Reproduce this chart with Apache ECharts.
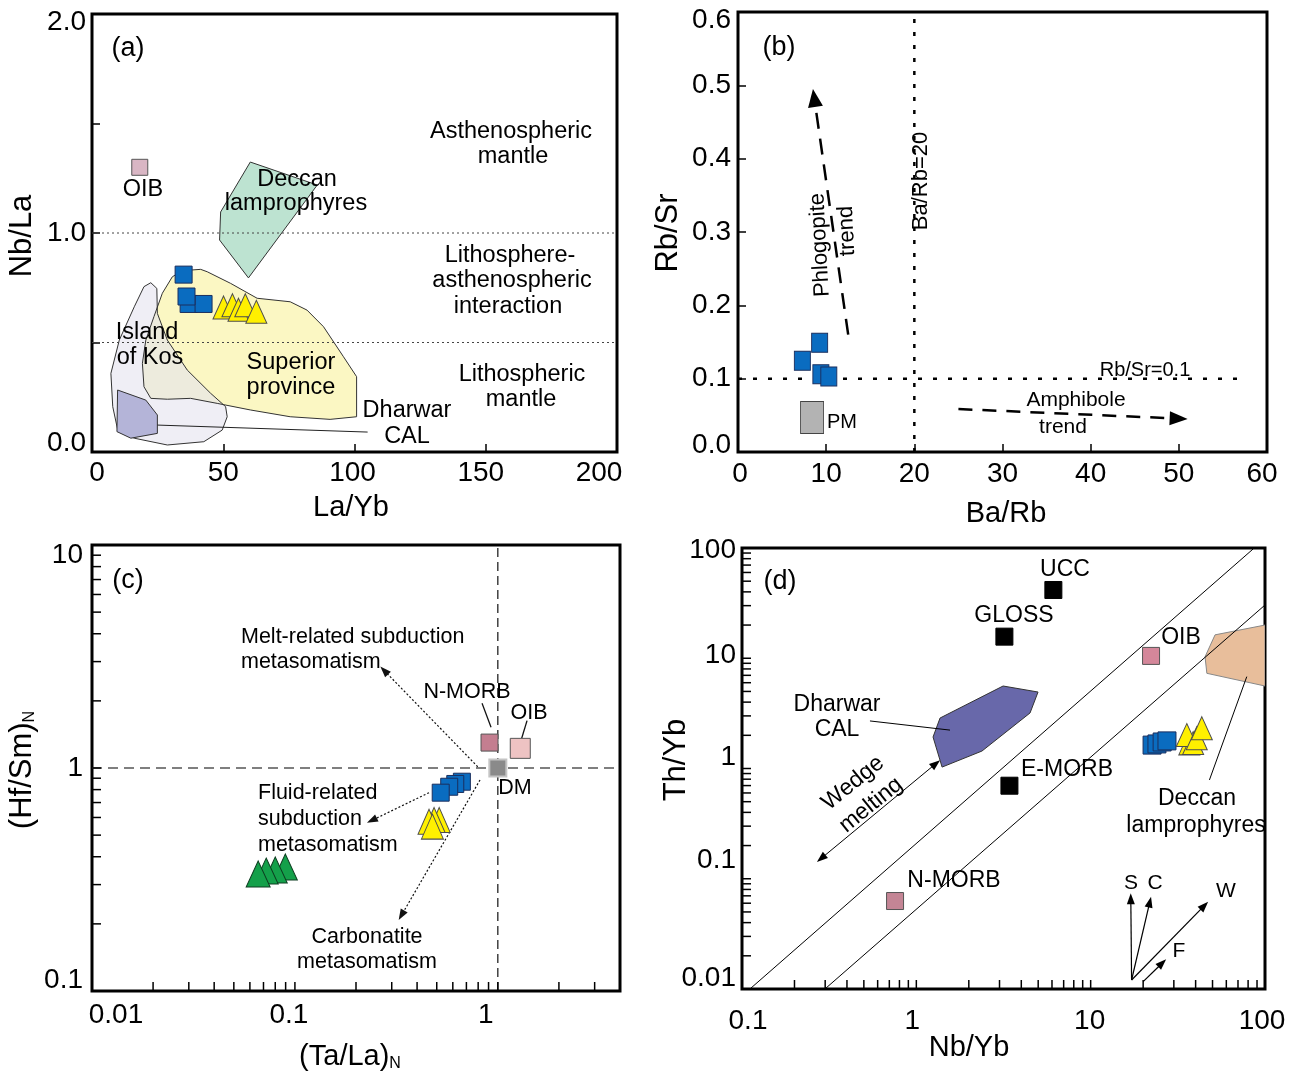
<!DOCTYPE html>
<html>
<head>
<meta charset="utf-8">
<script src="https://cdn.jsdelivr.net/npm/echarts@6.0.0/dist/echarts.min.js"></script>
<style>
html,body{margin:0;padding:0;background:#fff;}
#chart{width:1302px;height:1074px;}
</style>
</head>
<body>
<div id="chart"></div>
<script>
// ---------------- DATA ----------------
// (a) Nb/La vs La/Yb
const aOib = [[18.2, 1.30]];
const aSquares = [[36.8, 0.676], [42.5, 0.676], [36.0, 0.71], [34.9, 0.81]];
const aTriangles = [[50.1, 0.66], [53.5, 0.67], [55.8, 0.65], [58.4, 0.67], [62.6, 0.64]];
const aDeccanField = [[60.3, 1.324], [85.8, 1.219], [59.6, 0.795], [48.6, 0.968], [49.0, 1.096]];
const aKosField = [[22.4, 0.773], [24.7, 0.747], [24.9, 0.633], [28.7, 0.511], [36.3, 0.374], [45.2, 0.268], [50.9, 0.207], [51.5, 0.161], [49.6, 0.100], [42.6, 0.047], [28.7, 0.032], [16.1, 0.063], [9.8, 0.100], [7.9, 0.207], [7.2, 0.359], [10.4, 0.511], [16.1, 0.663], [19.8, 0.755]];
const aSuperiorField = [[30.6, 0.800], [34.4, 0.828], [41.4, 0.834], [43.9, 0.823], [52.8, 0.770], [62.9, 0.702], [75.5, 0.686], [81.9, 0.648], [88.2, 0.572], [95.8, 0.435], [100.8, 0.344], [100.8, 0.161], [90.7, 0.149], [75.5, 0.161], [60.3, 0.192], [47.7, 0.222], [37.6, 0.245], [28.7, 0.241], [22.4, 0.245], [19.8, 0.298], [19.2, 0.405], [20.5, 0.511], [23.6, 0.618], [26.8, 0.725]];
const aDharwarField = [[9.75, 0.283], [20.5, 0.237], [24.9, 0.169], [24.9, 0.085], [14.8, 0.063], [9.5, 0.093]];
const aDharwarLeader = [[24.9, 0.123], [105, 0.091]];
const aBoundaryValues = [1.0, 0.5];
const aXTickLabels = [[0, '0'], [50, '50'], [100, '100'], [150, '150'], [200, '200']];
const aYTickLabels = [[0, '0.0'], [1, '1.0'], [2, '2.0']];

// (b) Rb/Sr vs Ba/Rb
const bSquares = [[7.3, 0.1245], [9.26, 0.149], [9.4, 0.106], [10.3, 0.103]];
const bPM = [[8.4, 0.047]];
const bBaRbLine = [[20, 0], [20, 0.6]];
const bRbSrLine = [[0, 0.1], [57.8, 0.1]];
const bPhlogopiteArrow = [[12.5, 0.160], [8.5, 0.495]];
const bAmphiboleArrow = [[25.0, 0.0586], [51.0, 0.045]];
const bXTickLabels = [[0, '0'], [10, '10'], [20, '20'], [30, '30'], [40, '40'], [50, '50'], [60, '60']];
const bYTickLabels = [[0, '0.0'], [0.1, '0.1'], [0.2, '0.2'], [0.3, '0.3'], [0.4, '0.4'], [0.5, '0.5'], [0.6, '0.6']];

// (c) (Hf/Sm)N vs (Ta/La)N
const cNMorb = [[0.91, 1.30]];
const cOib = [[1.29, 1.225]];
const cDm = [[1.0, 1.0]];
const cSquares = [[0.665, 0.868], [0.617, 0.848], [0.576, 0.824], [0.523, 0.775]];
const cYellowTriangles = [[0.514, 0.585], [0.485, 0.585], [0.458, 0.574], [0.476, 0.546]];
const cGreenTriangles = [[0.0897, 0.360], [0.080, 0.349], [0.0722, 0.345], [0.0659, 0.335]];
const cMeltArrow = [[0.796, 1.013], [0.2636, 2.85]];
const cFluidArrow = [[0.458, 0.775], [0.2264, 0.568]];
const cCarbonatiteArrow = [[0.817, 0.884], [0.3246, 0.208]];
const cNMorbLeader = [[0.836, 1.95], [0.926, 1.522]];
const cOibLeader = [[1.393, 1.63], [1.311, 1.359]];
const cVLine = [[1, 0.1], [1, 10]];
const cHLine = [[0.01, 1], [4, 1]];
const cXTickLabels = [[0.01, '0.01'], [0.1, '0.1'], [1, '1']];
const cYTickLabels = [[0.1, '0.1'], [1, '1'], [10, '10']];
const cXTickValues = [0.02, 0.03, 0.04, 0.05, 0.06, 0.07, 0.08, 0.09, 0.1, 0.2, 0.3, 0.4, 0.5, 0.6, 0.7, 0.8, 0.9, 1, 2, 3];
const cYTickValues = [0.2, 0.3, 0.4, 0.5, 0.6, 0.7, 0.8, 0.9, 1, 2, 3, 4, 5, 6, 7, 8, 9];

// (d) Th/Yb vs Nb/Yb
const dUcc = [[6.11, 41.6]];
const dGloss = [[3.2, 15.7]];
const dEMorb = [[3.42, 0.698]];
const dOib = [[22.2, 10.5]];
const dNMorb = [[0.755, 0.0628]];
const dSquares = [[22.5, 1.63], [24.0, 1.67], [25.7, 1.74], [27.4, 1.78]];
const dTriangles = [[36.8, 1.69], [38.7, 1.70], [35.6, 2.01], [40.6, 1.88], [43.4, 2.32]];
const dArrayUpper = [[0.111, 0.01], [85.5, 98]];
const dArrayLower = [[0.299, 0.01], [100, 30.4]];
const dDharwarField = [[1.368, 2.87], [3.145, 5.60], [4.99, 4.94], [4.49, 3.19], [2.38, 1.44], [1.405, 1.03], [1.247, 1.93]];
const dDeccanField = [[51.7, 16.3], [100, 20.0], [100, 5.60], [46.4, 7.30], [45.3, 10.3]];
const dDharwarLeader = [[0.542, 2.70], [1.56, 2.23]];
const dDeccanLeader = [[78.6, 6.81], [48.0, 0.787]];
const dWedgeArrow = [[0.269, 0.142], [1.368, 1.19]];
const dVectorS = [[17.17, 0.01207], [16.98, 0.0738]];
const dVectorC = [[17.17, 0.01207], [22.2, 0.0688]];
const dVectorW = [[17.17, 0.01207], [47.2, 0.0619]];
const dVectorF = [[20.0, 0.01165], [27.1, 0.0186]];
const dXTickLabels = [[0.1, '0.1'], [1, '1'], [10, '10'], [100, '100']];
const dYTickLabels = [[0.01, '0.01'], [0.1, '0.1'], [1, '1'], [10, '10'], [100, '100']];
const dXTickValues = [0.2, 0.3, 0.4, 0.5, 0.6, 0.7, 0.8, 0.9, 1, 2, 3, 4, 5, 6, 7, 8, 9, 10, 20, 30, 40, 50, 60, 70, 80, 90];
const dYTickValues = [0.02, 0.03, 0.04, 0.05, 0.06, 0.07, 0.08, 0.09, 0.1, 0.2, 0.3, 0.4, 0.5, 0.6, 0.7, 0.8, 0.9, 1, 2, 3, 4, 5, 6, 7, 8, 9, 10, 20, 30, 40, 50, 60, 70, 80, 90];

// ---------------- LABEL NUDGES (pixels, styling only) ----------------
const aXShift = [5, 0, -2, -5, -18];
const aYShift = [-9, 0, 8];
const bXShift = [2, 0, 0, 0, 0, 0, -5];
const bYShift = [-7, 0, 0, 0, 0, 0, 8];
const cXShift = [24, -6, -12];
const cYShift = [-11, 0, 10];
const dXShift = [6, -4, -1, -3];
const dYShift = [-11, -18, -11, -3, 2];

// ---------------- HELPERS ----------------
const FONT = 'Liberation Sans, Arial, sans-serif';
const TICK_FS = 28;
const BLUE = '#0a6cc0', BLUE_B = '#1b2f5e';
const YEL = '#fff000', YEL_B = '#4d4d4d';

function labelSpec(list, shifts, dir) {
  const rich = {};
  list.forEach((l, i) => {
    const s = shifts[i] || 0;
    let pad;
    if (dir === 'x') pad = [0, Math.max(-2 * s, 0), 0, Math.max(2 * s, 0)];
    else pad = [Math.max(2 * s, 0), 0, Math.max(-2 * s, 0), 0];
    rich['l' + i] = { fontSize: TICK_FS, fontFamily: FONT, color: '#000', padding: pad };
  });
  const formatter = function (v) {
    const i = list.findIndex(l => Math.abs(v - l[0]) <= 1e-6 * Math.max(1e-9, Math.abs(l[0])) || Math.abs(v - l[0]) < 1e-12);
    return i < 0 ? '' : '{l' + i + '|' + list[i][1] + '}';
  };
  return { rich, formatter };
}
function valueAxis(gi, pos, min, max, interval, spec, margin) {
  return {
    type: 'value', gridIndex: gi, position: pos, min, max, interval,
    splitLine: { show: false }, axisLine: { show: false },
    axisTick: { show: true, inside: true, length: 8, lineStyle: { color: '#000', width: 1.5 } },
    axisLabel: { fontSize: TICK_FS, fontFamily: FONT, color: '#000', margin, interval: 0, formatter: spec.formatter, rich: spec.rich, showMinLabel: true, showMaxLabel: true }
  };
}
function logAxis(gi, pos, min, max, spec, margin) {
  return {
    type: 'log', logBase: 10, gridIndex: gi, position: pos, min, max,
    splitLine: { show: false }, axisLine: { show: false }, axisTick: { show: false }, minorTick: { show: false },
    axisLabel: { fontSize: TICK_FS, fontFamily: FONT, color: '#000', margin, interval: 0, formatter: spec.formatter, rich: spec.rich, showMinLabel: true, showMaxLabel: true }
  };
}
function scatter(gi, data, symbol, size, color, border, bw, z) {
  return {
    type: 'scatter', xAxisIndex: gi, yAxisIndex: gi, data, symbol, symbolSize: size, z: z || 5, silent: true,
    itemStyle: { color, borderColor: border, borderWidth: bw === undefined ? 1 : bw, opacity: 1 },
    emphasis: { disabled: true }, animation: false
  };
}
function polygon(gi, pts, fill, stroke, z, lw) {
  return {
    type: 'custom', xAxisIndex: gi, yAxisIndex: gi, data: [pts[0]], z, silent: true, clip: true,
    renderItem: (params, api) => ({
      type: 'polygon', shape: { points: pts.map(p => api.coord(p)) },
      style: { fill, stroke, lineWidth: lw === undefined ? 1 : lw }
    })
  };
}
function path(gi, pts, o) {
  return {
    type: 'custom', xAxisIndex: gi, yAxisIndex: gi, data: [pts[0]], z: o.z || 3, silent: true, clip: o.clip !== false,
    renderItem: (params, api) => {
      const p = pts.map(q => api.coord(q));
      const kids = [];
      const L = o.headLen || 0, W = o.headWid || 0;
      const head = (tip, from) => {
        const dx = tip[0] - from[0], dy = tip[1] - from[1];
        const d = Math.hypot(dx, dy) || 1;
        const ux = dx / d, uy = dy / d;
        const bx = tip[0] - ux * L, by = tip[1] - uy * L;
        kids.push({ type: 'polygon', shape: { points: [tip, [bx - uy * W / 2, by + ux * W / 2], [bx + uy * W / 2, by - ux * W / 2]] }, style: { fill: o.color, stroke: null } });
        return [bx + ux * 1, by + uy * 1];
      };
      const line = p.slice();
      if (o.headEnd) line[line.length - 1] = head(p[p.length - 1], p[p.length - 2]);
      if (o.headStart) line[0] = head(p[0], p[1]);
      kids.unshift({ type: 'polyline', shape: { points: line }, style: { stroke: o.color, lineWidth: o.width || 1, lineDash: o.dash || null, fill: null } });
      return { type: 'group', children: kids };
    }
  };
}
function ticks(gi, values, dir, other, len) {
  return {
    type: 'custom', xAxisIndex: gi, yAxisIndex: gi, z: 6, silent: true, clip: false,
    data: values.map(v => dir === 'x' ? [v, other] : [other, v]),
    renderItem: (params, api) => {
      const p = api.coord([api.value(0), api.value(1)]);
      return dir === 'x'
        ? { type: 'line', shape: { x1: p[0], y1: p[1], x2: p[0], y2: p[1] - len }, style: { stroke: '#000', lineWidth: 1.5 } }
        : { type: 'line', shape: { x1: p[0], y1: p[1], x2: p[0] + len, y2: p[1] }, style: { stroke: '#000', lineWidth: 1.5 } };
    }
  };
}
function txt(x, y, text, size, o) {
  o = o || {};
  const style = { text, fill: '#000', fontSize: size, fontFamily: FONT, align: o.align || 'center', verticalAlign: 'middle' };
  if (o.rich) style.rich = o.rich;
  return { type: 'text', x, y, rotation: o.rot ? o.rot * Math.PI / 180 : 0, z: 100, silent: true, style };
}

// ---------------- OPTION ----------------
const gridBase = { show: true, borderColor: '#000', borderWidth: 3, containLabel: false, outerBoundsMode: 'none', backgroundColor: 'transparent' };
const grids = [
  Object.assign({ left: 92, top: 14, width: 525, height: 438 }, gridBase),
  Object.assign({ left: 738, top: 12, width: 529, height: 440 }, gridBase),
  Object.assign({ left: 92, top: 545, width: 528, height: 446 }, gridBase),
  Object.assign({ left: 742, top: 548, width: 523, height: 441 }, gridBase)
];

const xAxes = [
  valueAxis(0, 'bottom', 0, 200, 50, labelSpec(aXTickLabels, aXShift, 'x'), 7),
  valueAxis(1, 'bottom', 0, 60, 10, labelSpec(bXTickLabels, bXShift, 'x'), 8),
  logAxis(2, 'bottom', 0.01, 4, labelSpec(cXTickLabels, cXShift, 'x'), 10),
  logAxis(3, 'bottom', 0.1, 100, labelSpec(dXTickLabels, dXShift, 'x'), 18)
];
const yAxes = [
  valueAxis(0, 'left', 0, 2, 0.5, labelSpec(aYTickLabels, aYShift, 'y'), 6),
  valueAxis(1, 'left', 0, 0.6, 0.1, labelSpec(bYTickLabels, bYShift, 'y'), 7),
  logAxis(2, 'left', 0.1, 10, labelSpec(cYTickLabels, cYShift, 'y'), 9),
  logAxis(3, 'left', 0.01, 100, labelSpec(dYTickLabels, dYShift, 'y'), 6)
];

const series = [
  // ---- (a)
  polygon(0, aSuperiorField, '#fbf7c3', 'none', 1),
  polygon(0, aKosField, 'rgba(228,226,238,0.6)', 'none', 1),
  polygon(0, aSuperiorField, 'none', '#333', 2),
  polygon(0, aKosField, 'none', '#333', 2),
  polygon(0, aDharwarField, '#b4b4d8', '#333', 2),
  polygon(0, aDeccanField, '#bde3d1', '#333', 2),
  path(0, [[0, aBoundaryValues[0]], [200, aBoundaryValues[0]]], { color: '#444', width: 1, dash: [2, 3] }),
  path(0, [[0, aBoundaryValues[1]], [200, aBoundaryValues[1]]], { color: '#444', width: 1, dash: [2, 3] }),
  path(0, aDharwarLeader, { color: '#222', width: 1 }),
  scatter(0, aOib, 'rect', 16, '#d9b6c4', '#555'),
  scatter(0, aSquares, 'rect', 17, BLUE, BLUE_B),
  scatter(0, aTriangles, 'triangle', [21, 23], YEL, YEL_B),
  // ---- (b)
  path(1, bBaRbLine, { color: '#000', width: 2.5, dash: [4, 9] }),
  path(1, bRbSrLine, { color: '#000', width: 2.5, dash: [4, 11] }),
  path(1, bPhlogopiteArrow, { color: '#000', width: 2.5, dash: [16, 10], headEnd: true, headLen: 18, headWid: 15 }),
  path(1, bAmphiboleArrow, { color: '#000', width: 2.5, dash: [14, 10], headEnd: true, headLen: 18, headWid: 14 }),
  scatter(1, bPM, 'rect', [23, 32], '#b3b3b3', '#444'),
  scatter(1, bSquares, 'rect', [16, 19], BLUE, BLUE_B),
  // ---- (c)
  path(2, cVLine, { color: '#111', width: 1.2, dash: [9, 5] }),
  path(2, cHLine, { color: '#555', width: 1.5, dash: [10, 6] }),
  path(2, cMeltArrow, { color: '#111', width: 1.2, dash: [2, 2], headEnd: true, headLen: 11, headWid: 8 }),
  path(2, cFluidArrow, { color: '#111', width: 1.2, dash: [2, 2], headEnd: true, headLen: 11, headWid: 8 }),
  path(2, cCarbonatiteArrow, { color: '#111', width: 1.2, dash: [2, 2], headEnd: true, headLen: 11, headWid: 8 }),
  path(2, cNMorbLeader, { color: '#111', width: 1.3 }),
  path(2, cOibLeader, { color: '#111', width: 1.3 }),
  scatter(2, cNMorb, 'rect', 17, '#c47e90', '#555'),
  scatter(2, cOib, 'rect', 20, '#eec3c3', '#555'),
  scatter(2, cDm, 'rect', 17, '#8a8a8a', '#c4c4c4', 2),
  scatter(2, cGreenTriangles, 'triangle', [24, 26], '#14a04a', '#0d3d20'),
  scatter(2, cYellowTriangles, 'triangle', [22, 25], YEL, YEL_B),
  scatter(2, cSquares, 'rect', 17, BLUE, BLUE_B),
  ticks(2, cXTickValues, 'x', 0.1, 9),
  ticks(2, cYTickValues, 'y', 0.01, 9),
  // ---- (d)
  polygon(3, dDeccanField, '#e8be9b', '#888', 1),
  polygon(3, dDharwarField, '#6868aa', '#333', 1),
  path(3, dArrayUpper, { color: '#000', width: 1 }),
  path(3, dArrayLower, { color: '#000', width: 1 }),
  path(3, dDharwarLeader, { color: '#000', width: 1 }),
  path(3, dDeccanLeader, { color: '#000', width: 1 }),
  path(3, dWedgeArrow, { color: '#000', width: 1, headEnd: true, headStart: true, headLen: 11, headWid: 8 }),
  path(3, dVectorS, { color: '#000', width: 1.2, headEnd: true, headLen: 11, headWid: 8 }),
  path(3, dVectorC, { color: '#000', width: 1.2, headEnd: true, headLen: 11, headWid: 8 }),
  path(3, dVectorW, { color: '#000', width: 1.2, headEnd: true, headLen: 11, headWid: 8 }),
  path(3, dVectorF, { color: '#000', width: 1.2, headEnd: true, headLen: 11, headWid: 8 }),
  scatter(3, dUcc.concat(dGloss, dEMorb), 'rect', 17, '#000', '#000'),
  scatter(3, dOib, 'rect', 17, '#d4879a', '#555'),
  scatter(3, dNMorb, 'rect', 17, '#c48595', '#555'),
  scatter(3, dSquares, 'rect', 18, BLUE, BLUE_B),
  scatter(3, dTriangles, 'triangle', [21, 23], YEL, YEL_B),
  ticks(3, dXTickValues, 'x', 0.01, 9),
  ticks(3, dYTickValues, 'y', 0.1, 9)
];

const subRich = { s: { fontSize: 16, fontFamily: FONT, verticalAlign: 'bottom', fill: '#000' } };
const FA = 23.5, FB = 21, FC = 21.5, FD = 23, NAME_H = 29, NAME_V = 31;
const texts = [
  // (a)
  txt(128, 49, '(a)', 27),
  txt(143, 190, 'OIB', FA),
  txt(297, 180, 'Deccan', FA), txt(296, 204, 'lamprophyres', FA),
  txt(511, 132, 'Asthenospheric', FA), txt(513, 157, 'mantle', FA),
  txt(510, 256, 'Lithosphere-', FA), txt(512, 281, 'asthenospheric', FA), txt(508, 307, 'interaction', FA),
  txt(147, 333, 'Island', FA), txt(150, 358, 'of Kos', FA),
  txt(291, 363, 'Superior', FA), txt(291, 388, 'province', FA),
  txt(522, 375, 'Lithospheric', FA), txt(521, 400, 'mantle', FA),
  txt(407, 411, 'Dharwar', FA), txt(407, 437, 'CAL', FA),
  txt(22, 236, 'Nb/La', NAME_V, { rot: 90 }), txt(351, 508, 'La/Yb', NAME_H),
  // (b)
  txt(779, 48, '(b)', 27),
  txt(921, 181, 'Ba/Rb=20', 22, { rot: 90 }),
  txt(820, 245, 'Phlogopite', 22, { rot: 93 }),
  txt(847, 231, 'trend', 22, { rot: 93 }),
  txt(1145, 370, 'Rb/Sr=0.1', 20),
  txt(1076, 400, 'Amphibole', FB), txt(1063, 427, 'trend', FB),
  txt(842, 422, 'PM', 20),
  txt(668, 233, 'Rb/Sr', NAME_V, { rot: 90 }), txt(1006, 514, 'Ba/Rb', NAME_H),
  // (c)
  txt(128, 581, '(c)', 27),
  txt(241, 637, 'Melt-related subduction', FC, { align: 'left' }),
  txt(241, 662, 'metasomatism', FC, { align: 'left' }),
  txt(467, 692, 'N-MORB', FC), txt(529, 713, 'OIB', FC), txt(515, 788, 'DM', FC),
  txt(258, 793, 'Fluid-related', FC, { align: 'left' }),
  txt(258, 819, 'subduction', FC, { align: 'left' }),
  txt(258, 845, 'metasomatism', FC, { align: 'left' }),
  txt(367, 937, 'Carbonatite', FC), txt(367, 962, 'metasomatism', FC),
  txt(22, 770, '(Hf/Sm){s|N}', NAME_V, { rot: 90, rich: subRich }),
  txt(350, 1057, '(Ta/La){s|N}', NAME_H, { rich: subRich }),
  // (d)
  txt(780, 582, '(d)', 27),
  txt(1065, 570, 'UCC', FD), txt(1014, 616, 'GLOSS', FD), txt(1181, 638, 'OIB', FD),
  txt(837, 705, 'Dharwar', FD), txt(837, 730, 'CAL', FD),
  txt(1067, 770, 'E-MORB', FD),
  txt(1197, 799, 'Deccan', FD), txt(1196, 826, 'lamprophyres', FD),
  txt(954, 881, 'N-MORB', FD),
  txt(853, 783, 'Wedge', FD, { rot: 39 }), txt(871, 805, 'melting', FD, { rot: 39 }),
  txt(1131, 883, 'S', 21), txt(1155, 883, 'C', 21), txt(1226, 891, 'W', 21), txt(1179, 951, 'F', 21),
  txt(676, 760, 'Th/Yb', NAME_V, { rot: 90 }), txt(969, 1048, 'Nb/Yb', NAME_H)
];

const chart = echarts.init(document.getElementById('chart'), null, { renderer: 'canvas' });
chart.setOption({
  animation: false,
  backgroundColor: '#fff',
  grid: grids,
  xAxis: xAxes,
  yAxis: yAxes,
  series,
  graphic: { elements: texts }
});
</script>
</body>
</html>
